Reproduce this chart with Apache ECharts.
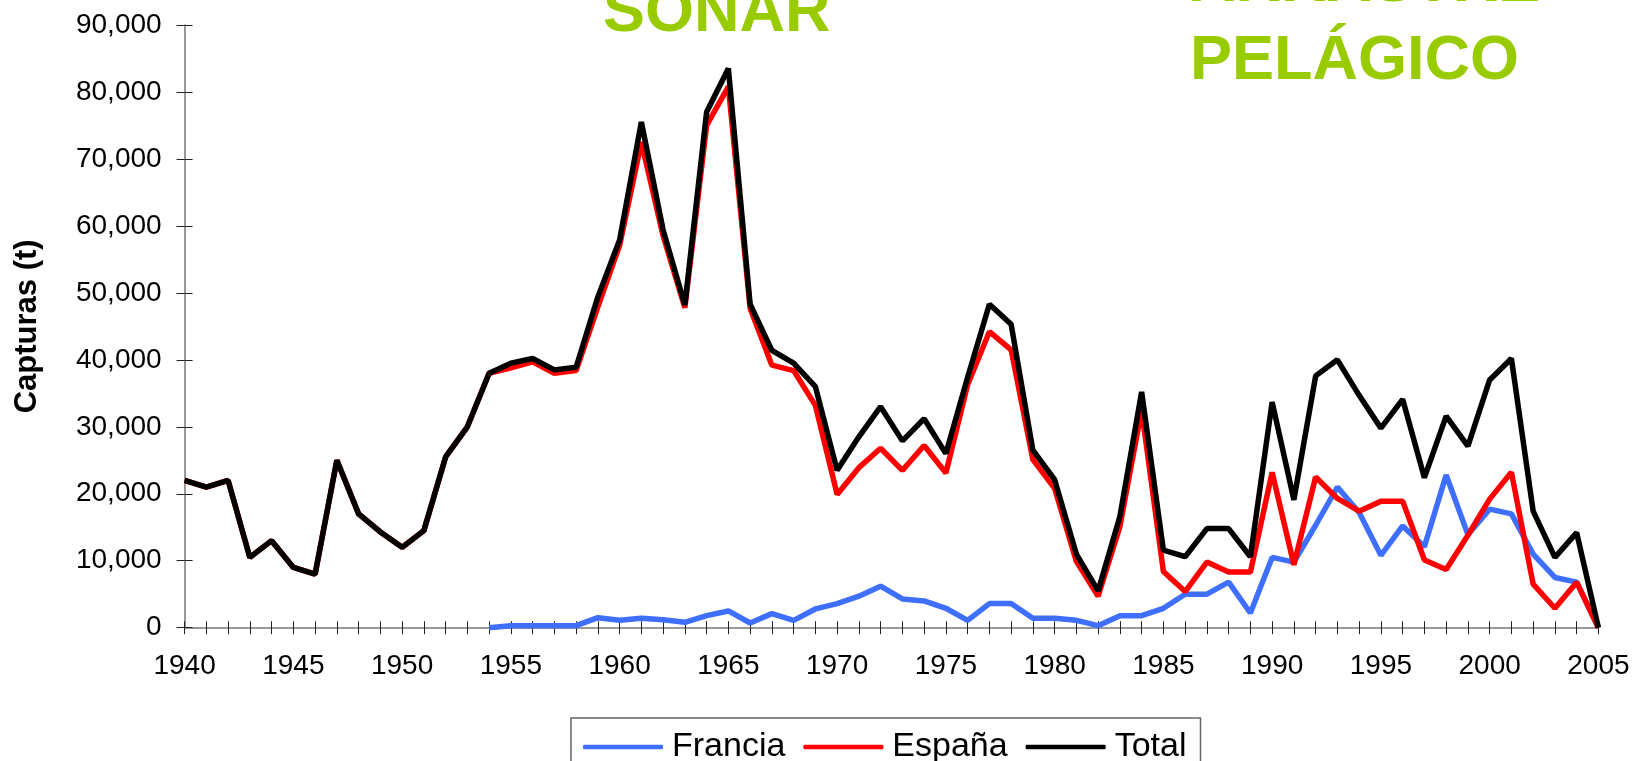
<!DOCTYPE html>
<html>
<head>
<meta charset="utf-8">
<script src="https://cdn.jsdelivr.net/npm/echarts@6/dist/echarts.min.js"></script>
<style>
html,body{margin:0;padding:0;background:#fff;}
#chart{width:1636px;height:761px;}
</style>
</head>
<body>
<div id="chart"></div>
<script>
const years = [];
for (let y = 1940; y <= 2005; y++) years.push(String(y));

const yTicks = [0, 10000, 20000, 30000, 40000, 50000, 60000, 70000, 80000, 90000];

const francia = [
  null, null, null, null, null, null, null, null, null, null,
  null, null, null, null, 0, 300, 300, 300, 300, 1500,
  1100, 1400, 1200, 800, 1800, 2500, 700, 2100, 1100, 2800,
  3600, 4700, 6200, 4300, 4000, 2900, 1100, 3600, 3600, 1400,
  1400, 1100, 300, 1800, 1800, 2900, 5000, 5000, 6800, 2200,
  10500, 9800, 15300, 21000, 17200, 10800, 15200, 12100, 22800, 13900,
  17700, 17000, 11000, 7500, 6800, 0
];

const espana = [
  22000, 21000, 22000, 10500, 13000, 9000, 8000, 25000, 17000, 14300,
  12000, 14500, 25500, 30000, 38000, 38800, 39700, 38000, 38400, 47900,
  57100, 72500, 58500, 47800, 75000, 80800, 47700, 39200, 38400, 33200,
  19900, 23900, 26800, 23500, 27200, 23100, 36300, 44200, 41500, 25100,
  20800, 9900, 4700, 15100, 32500, 8400, 5400, 9800, 8300, 8300,
  23200, 9400, 22500, 19300, 17400, 18900, 18900, 10100, 8700, 13800,
  19200, 23200, 6500, 2900, 6800, 0
];

const total = [
  22000, 21000, 22000, 10500, 13000, 9000, 8000, 25000, 17000, 14300,
  12000, 14500, 25500, 30000, 38000, 39500, 40200, 38500, 38900, 49400,
  57900, 75500, 59400, 48200, 77000, 83500, 48300, 41400, 39500, 36000,
  23500, 28500, 33000, 27900, 31200, 26000, 37400, 48300, 45300, 26500,
  22100, 11000, 5500, 16600, 35200, 11600, 10600, 14800, 14800, 10600,
  33700, 19100, 37600, 40000, 34700, 29800, 34100, 22400, 31600, 27100,
  37000, 40200, 17400, 10500, 14200, 0
];

const FONT = '"Liberation Sans", Arial, sans-serif';
const chart = echarts.init(document.getElementById('chart'), null, {renderer: 'canvas'});

const fmt = v => String(v).replace(/\B(?=(\d{3})+(?!\d))/g, ',');

const xLabelInterval = (i) => (1940 + i) % 5 === 0;

const LW = 5.5;

chart.setOption({
  animation: false,
  backgroundColor: '#fff',
  grid: {left: 184.6, right: 37.6, top: 25, bottom: 133.3, containLabel: false},
  xAxis: [
    {
      type: 'category', data: years, boundaryGap: false, position: 'bottom',
      axisLine: {show: true, onZero: false, lineStyle: {color: '#777', width: 1.5}},
      axisTick: {show: true, interval: 0, length: 6.5, lineStyle: {color: '#222', width: 1}},
      axisLabel: {interval: xLabelInterval, margin: 25, color: '#000', fontSize: 28, fontFamily: FONT},
      splitLine: {show: false}
    },
    {
      type: 'category', data: years, boundaryGap: false, position: 'bottom',
      axisLine: {show: false, onZero: false},
      axisTick: {show: true, inside: true, interval: 0, length: 6.5, lineStyle: {color: '#222', width: 1}},
      axisLabel: {show: false},
      splitLine: {show: false}
    }
  ],
  yAxis: [
    {
      type: 'value', min: 0, max: 90000, interval: 10000, position: 'left',
      name: 'Capturas (t)', nameLocation: 'middle', nameGap: 142,
      nameTextStyle: {fontSize: 31, fontWeight: 'bold', color: '#000', fontFamily: FONT},
      axisLine: {show: true, lineStyle: {color: '#777', width: 1.5}},
      axisTick: {show: true, length: 8, lineStyle: {color: '#222', width: 1}},
      axisLabel: {margin: 23, color: '#000', fontSize: 28, fontFamily: FONT,
        formatter: v => yTicks.indexOf(v) >= 0 ? fmt(v) : ''},
      splitLine: {show: false}
    },
    {
      type: 'value', min: 0, max: 90000, interval: 10000, position: 'left',
      axisLine: {show: false},
      axisTick: {show: true, inside: true, length: 8, lineStyle: {color: '#222', width: 1}},
      axisLabel: {show: false},
      splitLine: {show: false}
    }
  ],
  legend: {
    left: 571, top: 718,
    padding: [12, 14, 12, 12],
    itemGap: 18, itemWidth: 80, itemHeight: 4.5,
    icon: 'roundRect',
    borderColor: '#666', borderWidth: 1.5, backgroundColor: '#fff',
    textStyle: {fontSize: 34, color: '#000', fontFamily: FONT, padding: [0, 0, 0, 4]},
    data: ['Francia', 'España', 'Total']
  },
  graphic: [
    {type: 'text', left: 603, top: -18, silent: true,
      style: {text: 'SONAR', font: 'bold 63px ' + FONT, fill: '#99CC00'}},
    {type: 'text', left: 1190, top: -55, silent: true,
      style: {text: 'ARRASTRE\nPELÁGICO', font: 'bold 63px ' + FONT, fill: '#99CC00', lineHeight: 78}}
  ],
  series: [
    {name: 'Francia', type: 'line', data: francia, symbol: 'none', connectNulls: false,
      lineStyle: {color: '#3F6FFF', width: LW}, itemStyle: {color: '#3F6FFF'}, z: 2},
    {name: 'España', type: 'line', data: espana, symbol: 'none',
      lineStyle: {color: '#FF0000', width: LW}, itemStyle: {color: '#FF0000'}, z: 3},
    {name: 'Total', type: 'line', data: total, symbol: 'none',
      lineStyle: {color: '#000000', width: LW}, itemStyle: {color: '#000000'}, z: 4}
  ]
});
</script>
</body>
</html>
